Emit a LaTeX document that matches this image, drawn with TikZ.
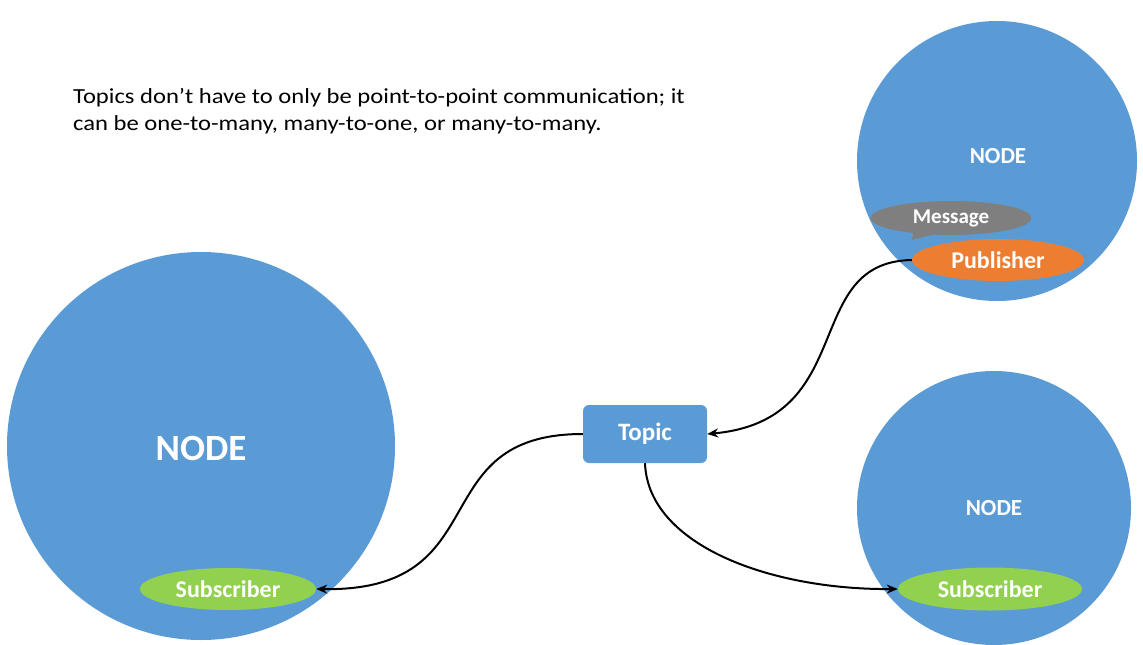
\documentclass[tikz,border=0pt]{standalone}
\usepackage{fontspec}
\setmainfont{Carlito}
\newfontfamily\widefont[FakeStretch=1.145]{Carlito}
\usetikzlibrary{shapes.geometric,shapes.callouts,arrows.meta}
\definecolor{nodeblue}{HTML}{5B9BD5}
\definecolor{msggray}{HTML}{7F7F7F}
\definecolor{puborange}{HTML}{ED7D31}
\definecolor{subgreen}{HTML}{92D050}
\tikzset{
  bignode/.style={circle, fill=nodeblue, draw=none},
  nodelabel/.style={text=white, font=\bfseries\fontsize{#1}{#1}\selectfont},
  pill/.style={ellipse, draw=none, text=white, inner sep=0pt, font=\bfseries\fontsize{24}{24}\selectfont},
  topicbox/.style={rectangle, rounded corners=6pt, fill=nodeblue, text=white, font=\bfseries\fontsize{25}{25}\selectfont, minimum width=124pt, minimum height=58pt},
  conn/.style={line width=2pt, -{Stealth[length=11pt,width=9pt]}}
}
\begin{document}
\begin{tikzpicture}[x=1pt,y=-1pt]
\useasboundingbox (0,0) rectangle (1143,645);
\fill[white] (0,0) rectangle (1143,645);
% circles
\node[bignode, minimum size=388pt] (n1) at (201,446) {};
\node[nodelabel=37] (n1t) at (201,448) {NODE};
\node[bignode, minimum size=280pt] (n2) at (997,161) {};
\node[nodelabel=23] (n2t) at (998,156) {NODE};
\node[bignode, minimum size=274pt] (n3) at (994,508) {};
\node[nodelabel=23] (n3t) at (994,508) {NODE};
% message callout
\coordinate (tail) at (912,240);
\node[ellipse callout, fill=msggray, draw=none, text=white, inner sep=0pt,
  minimum width=161pt, minimum height=34pt, callout absolute pointer={(tail)},
  font=\bfseries\fontsize{21}{21}\selectfont] (msg) at (951,218) {Message};
% publisher
\node[pill, fill=puborange, minimum width=172pt, minimum height=42pt] (pub) at (998,260) {Publisher};
% subscribers
\node[pill, fill=subgreen, minimum width=176pt, minimum height=42pt] (sub1) at (228,589) {Subscriber};
\node[pill, fill=subgreen, minimum width=184pt, minimum height=43pt] (sub2) at (990,589) {Subscriber};
% topic
\node[topicbox] (topic) at (645,434) {Topic};
% text
\node[anchor=base west, align=left, inner sep=0pt, font=\widefont\fontsize{21.5}{27}\selectfont] (txt) at (73,130)
  {Topics don’t have to only be point-to-point communication; it\\can be one-to-many, many-to-one, or many-to-many.};
% connectors
\draw[conn] (pub.west) .. controls (800,262) and (860,420) .. (topic.east);
\draw[conn] (topic.west) .. controls (420,434) and (500,592) .. (sub1.east);
\draw[conn] (topic.south) .. controls (648,545) and (770,590) .. (sub2.west);
\end{tikzpicture}
\end{document}
